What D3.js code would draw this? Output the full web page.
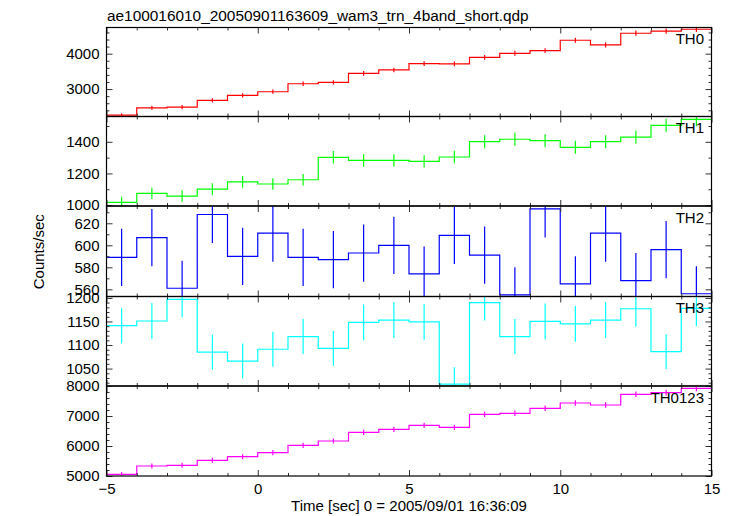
<!DOCTYPE html>
<html>
<head>
<meta charset="utf-8">
<script src="https://cdn.jsdelivr.net/npm/d3@7"></script>
<style>
  html, body { margin: 0; padding: 0; background: #fff; }
  svg { display: block; }
  text { font-family: "Liberation Sans", Arial, Helvetica, sans-serif; font-size: 15px; fill: #000; }
</style>
</head>
<body>
<svg id="chart" width="733" height="516"></svg>
<script>
// ---------- data ----------
const titleText = "ae100016010_20050901163609_wam3_trn_4band_short.qdp";
const xLabel = "Time [sec] 0 = 2005/09/01 16:36:09";
const yLabel = "Counts/sec";
const binWidth = 1;
const times = [-4.5, -3.5, -2.5, -1.5, -0.5, 0.5, 1.5, 2.5, 3.5, 4.5,
               5.5, 6.5, 7.5, 8.5, 9.5, 10.5, 11.5, 12.5, 13.5, 14.5];

const seriesNames = ["TH0", "TH1", "TH2", "TH3", "TH0123"];
const seriesColors = ["#ff0000", "#00ff00", "#0000ff", "#00ffff", "#ff00ff"];

const th0 = [2263, 2471, 2490, 2680, 2820, 2925, 3150, 3190, 3445, 3540,
             3717, 3710, 3898, 4011, 4086, 4380, 4247, 4578, 4635, 4690];
const th0Err = [52, 57, 57, 58, 60, 60, 62, 62, 65, 66,
                67, 67, 68, 70, 70, 72, 71, 74, 74, 75];

const th1 = [1017, 1074, 1057, 1101, 1146, 1133, 1160, 1302, 1283, 1283,
             1276, 1304, 1401, 1416, 1407, 1365, 1401, 1430, 1504, 1542];
const th1Err = [35, 36, 36, 37, 37, 37, 37, 40, 40, 39,
                39, 40, 41, 41, 41, 41, 41, 42, 42, 43];

const th2 = [589, 607, 561, 628, 590, 611, 589, 587, 593, 600,
             574, 609, 591, 555, 633, 565, 611, 568, 596, 556];
const th2Err = [26, 26, 25, 26, 26, 26, 26, 26, 26, 26,
                25, 26, 26, 25, 26, 25, 26, 25, 26, 25];

const th3 = [1141, 1151, 1197, 1085, 1066, 1091, 1118, 1093, 1148, 1153,
             1149, 1017, 1190, 1118, 1150, 1145, 1153, 1177, 1086, 1178];
const th3Err = [37, 38, 38, 37, 37, 37, 37, 37, 38, 38,
                38, 36, 38, 37, 38, 38, 38, 38, 37, 38];

const th0123 = [5057, 5333, 5356, 5522, 5644, 5778, 6022, 6167, 6456, 6556,
                6689, 6622, 7056, 7089, 7256, 7433, 7367, 7722, 7778, 7922];
const th0123Err = [80, 82, 82, 83, 84, 85, 86, 87, 88, 89,
                   90, 90, 92, 92, 93, 94, 94, 96, 96, 97];

const xDomain = [-5, 15];
const xMajorTicks = [-5, 0, 5, 10, 15];
const xMinorTicks = [-4, -3, -2, -1, 1, 2, 3, 4, 6, 7, 8, 9, 11, 12, 13, 14];

const yDomains = [[2225, 4740], [994, 1560], [553.5, 635.7], [1013, 1203], [5000, 8000]];
const yMajorTicks = [[3000, 4000], [1000, 1200, 1400], [560, 580, 600, 620],
                     [1050, 1100, 1150, 1200], [5000, 6000, 7000, 8000]];
const yMinorSteps = [200, 100, 10, 10, 200];

const seriesValues = [th0, th1, th2, th3, th0123];
const seriesErrors = [th0Err, th1Err, th2Err, th3Err, th0123Err];

// ---------- layout ----------
const left = 106.5, right = 711.5;
const panelEdges = [27.5, 116.5, 206, 296.5, 386, 476];

const svg = d3.select("#chart");
const x = d3.scaleLinear().domain(xDomain).range([left, right]);

svg.append("text")
  .attr("x", 107).attr("y", 20.5)
  .style("font-size", "15.4px")
  .text(titleText);

seriesNames.forEach((name, i) => {
  const top = panelEdges[i], bottom = panelEdges[i + 1];
  const y = d3.scaleLinear().domain(yDomains[i]).range([bottom, top]);
  const g = svg.append("g");

  const clipId = "clip" + i;
  svg.append("clipPath").attr("id", clipId)
    .append("rect").attr("x", left).attr("y", top)
    .attr("width", right - left).attr("height", bottom - top);

  const dataG = g.append("g").attr("clip-path", `url(#${clipId})`);
  const vals = seriesValues[i], errs = seriesErrors[i];
  const pts = times.map((t, k) => [t - binWidth / 2, vals[k]]);
  pts.push([times[times.length - 1] + binWidth / 2, vals[vals.length - 1]]);

  const line = d3.line().x(d => x(d[0])).y(d => y(d[1])).curve(d3.curveStepAfter);
  dataG.append("path").datum(pts)
    .attr("d", line)
    .attr("fill", "none")
    .attr("stroke", seriesColors[i])
    .attr("stroke-width", 1.2);

  dataG.selectAll("line.err").data(times).enter().append("line")
    .attr("class", "err")
    .attr("x1", t => x(t)).attr("x2", t => x(t))
    .attr("y1", (t, k) => y(vals[k] - errs[k]))
    .attr("y2", (t, k) => y(vals[k] + errs[k]))
    .attr("stroke", seriesColors[i])
    .attr("stroke-width", 1.2);

  // minor y ticks
  const d0 = yDomains[i][0], d1 = yDomains[i][1], st = yMinorSteps[i];
  const minors = d3.range(Math.ceil(d0 / st) * st, d1 + 1e-9, st)
    .filter(v => !yMajorTicks[i].includes(v));

  const axStyle = sel => {
    sel.select(".domain").remove();
    sel.selectAll(".tick line").attr("stroke", "#333").attr("stroke-width", 1);
    sel.selectAll(".tick text").style("font-family", '"Liberation Sans", Arial, sans-serif')
      .style("font-size", "15px").attr("fill", "#000");
  };

  g.append("g").attr("transform", `translate(${left},0)`)
    .call(d3.axisLeft(y).tickValues(yMajorTicks[i]).tickSize(-6).tickPadding(7).tickFormat(d3.format("d")))
    .call(axStyle);
  g.append("g").attr("transform", `translate(${left},0)`)
    .call(d3.axisLeft(y).tickValues(minors).tickSize(-3).tickFormat(""))
    .call(axStyle);
  g.append("g").attr("transform", `translate(${right},0)`)
    .call(d3.axisRight(y).tickValues(yMajorTicks[i]).tickSize(-6).tickFormat(""))
    .call(axStyle);
  g.append("g").attr("transform", `translate(${right},0)`)
    .call(d3.axisRight(y).tickValues(minors).tickSize(-3).tickFormat(""))
    .call(axStyle);

  // x ticks top and bottom
  const isLast = i === seriesNames.length - 1;
  g.append("g").attr("transform", `translate(0,${bottom})`)
    .call(d3.axisBottom(x).tickValues(xMajorTicks).tickSize(-6).tickPadding(isLast ? 7 : 0)
      .tickFormat(isLast ? (d => d < 0 ? "\u2212" + Math.abs(d) : d) : ""))
    .call(axStyle);
  g.append("g").attr("transform", `translate(0,${bottom})`)
    .call(d3.axisBottom(x).tickValues(xMinorTicks).tickSize(-3).tickFormat(""))
    .call(axStyle);
  g.append("g").attr("transform", `translate(0,${top})`)
    .call(d3.axisTop(x).tickValues(xMajorTicks).tickSize(-6).tickFormat(""))
    .call(axStyle);
  g.append("g").attr("transform", `translate(0,${top})`)
    .call(d3.axisTop(x).tickValues(xMinorTicks).tickSize(-3).tickFormat(""))
    .call(axStyle);

  // frame
  g.append("rect")
    .attr("x", left).attr("y", top)
    .attr("width", right - left).attr("height", bottom - top)
    .attr("fill", "none").attr("stroke", "#000").attr("stroke-width", 1.2);

  g.append("text")
    .attr("x", 704).attr("y", top + 16.5)
    .attr("text-anchor", "end")
    .text(name);
});

svg.append("text")
  .attr("x", (left + right) / 2).attr("y", 511)
  .attr("text-anchor", "middle")
  .text(xLabel);

svg.append("text")
  .attr("transform", `translate(44,${(panelEdges[0] + panelEdges[5]) / 2}) rotate(-90)`)
  .attr("text-anchor", "middle")
  .text(yLabel);
</script>
</body>
</html>
